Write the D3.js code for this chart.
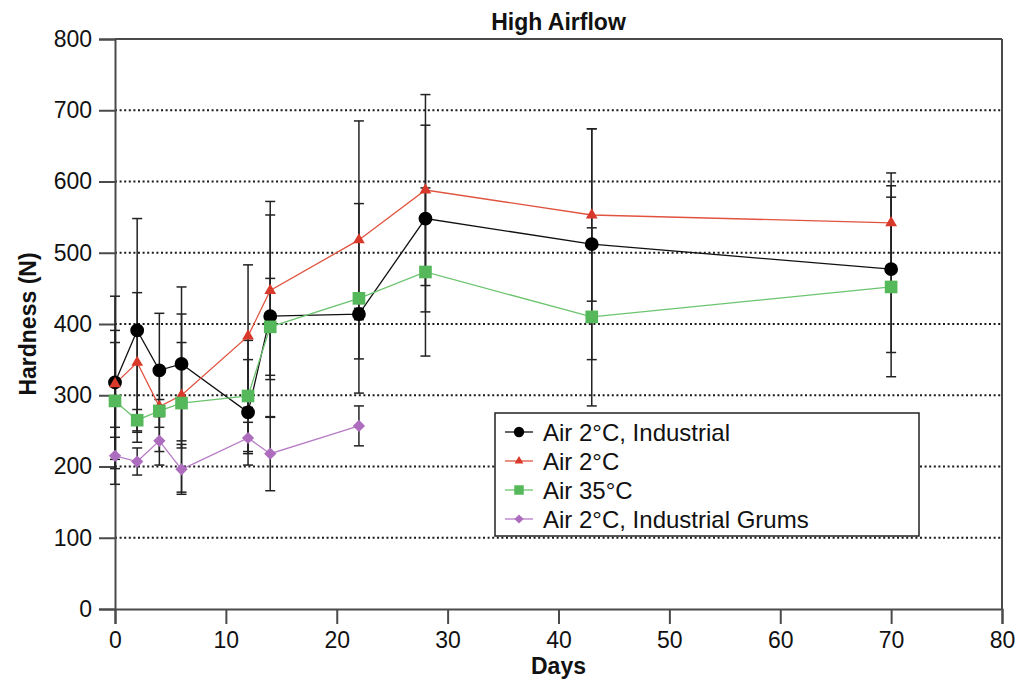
<!DOCTYPE html>
<html>
<head>
<meta charset="utf-8">
<script src="https://cdn.jsdelivr.net/npm/d3@7"></script>
<style>
  body { margin: 0; background: #fff; }
  svg { display: block; font-family: "Liberation Sans", Arial, sans-serif; }
</style>
</head>
<body>
<svg id="chart" width="1017" height="681"></svg>
<script>
// ---- data ----
const days = [0, 2, 4, 6, 12, 14, 22, 28, 43, 70];
const daysGrums = [0, 2, 4, 6, 12, 14, 22];

const industrial = [318, 391, 335, 344, 276, 411, 414, 548, 512, 477];
const industrialErr = [121, 157, 80, 108, 74, 142, 8, 131, 162, 117];

const air2 = [316, 346, 284, 300, 383, 447, 518, 588, 553, 542];
const air2Err = [75, 98, 10, 74, 100, 125, 167, 134, 121, 70];

const air35 = [292, 265, 278, 289, 299, 396, 436, 473, 410, 452];
const air35Err = [82, 15, 57, 125, 78, 68, 133, 118, 125, 126];

const grums = [215, 207, 236, 196, 240, 218, 257];
const grumsErr = [40, 19, 34, 35, 22, 52, 28];

const seriesNames = ["Air 2°C, Industrial", "Air 2°C", "Air 35°C", "Air 2°C, Industrial Grums"];
const xTicks = [0, 10, 20, 30, 40, 50, 60, 70, 80];
const yTicks = [0, 100, 200, 300, 400, 500, 600, 700, 800];
const gridValues = [100, 200, 300, 400, 500, 600, 700];

const series = [
  { name: seriesNames[0], x: days, y: industrial, err: industrialErr, color: "#000000", line: "#111111", shape: "circle" },
  { name: seriesNames[1], x: days, y: air2, err: air2Err, color: "#d9392a", line: "#e0533f", shape: "triangle" },
  { name: seriesNames[2], x: days, y: air35, err: air35Err, color: "#55b85a", line: "#6cc46f", shape: "square" },
  { name: seriesNames[3], x: daysGrums, y: grums, err: grumsErr, color: "#ad6cbd", line: "#b77cc6", shape: "diamond" }
];

// ---- layout ----
const svg = d3.select("#chart");
const x = d3.scaleLinear().domain([0, 80]).range([115, 1002]);
const y = d3.scaleLinear().domain([0, 800]).range([609, 39]);
const axisColor = "#4a4a4a";

// gridlines
svg.append("g").selectAll("line").data(gridValues).join("line")
  .attr("x1", x(0)).attr("x2", x(80))
  .attr("y1", d => y(d)).attr("y2", d => y(d))
  .attr("stroke", "#1a1a1a").attr("stroke-width", 2)
  .attr("stroke-dasharray", "2,2.6");

// frame top & right
svg.append("line").attr("x1", x(0)).attr("x2", x(80)).attr("y1", y(800)).attr("y2", y(800))
  .attr("stroke", axisColor).attr("stroke-width", 2);
svg.append("line").attr("x1", x(80)).attr("x2", x(80)).attr("y1", y(800)).attr("y2", y(0))
  .attr("stroke", axisColor).attr("stroke-width", 2);

// axes
const yAxis = svg.append("g").attr("transform", `translate(${x(0)},0)`)
  .call(d3.axisLeft(y).tickValues(yTicks).tickSize(16).tickPadding(7).tickFormat(d3.format("d")));
const xAxis = svg.append("g").attr("transform", `translate(0,${y(0)})`)
  .call(d3.axisBottom(x).tickValues(xTicks).tickSize(15).tickPadding(8).tickFormat(d3.format("d")));
[yAxis, xAxis].forEach(g => {
  g.select(".domain").attr("stroke", axisColor).attr("stroke-width", 2);
  g.selectAll(".tick line").attr("stroke", axisColor).attr("stroke-width", 2);
  g.selectAll(".tick text").attr("fill", "#111").style("font-size", "23px")
    .style("font-family", "'Liberation Sans', Arial, sans-serif");
});

// titles
svg.append("text").attr("x", 558.5).attr("y", 30).attr("text-anchor", "middle")
  .style("font-size", "23px").style("font-weight", "bold").attr("fill", "#111").text("High Airflow");
svg.append("text").attr("x", 558.5).attr("y", 674).attr("text-anchor", "middle")
  .style("font-size", "23px").style("font-weight", "bold").attr("fill", "#111").text("Days");
svg.append("text").attr("transform", "translate(36,324) rotate(-90)").attr("text-anchor", "middle")
  .style("font-size", "23px").style("font-weight", "bold").attr("fill", "#111").text("Hardness (N)");

// error bars
const capW = 5;
series.forEach(s => {
  const g = svg.append("g");
  s.x.forEach((d, i) => {
    const cx = x(d), hi = y(s.y[i] + s.err[i]), lo = y(s.y[i] - s.err[i]);
    g.append("line").attr("x1", cx).attr("x2", cx).attr("y1", hi).attr("y2", lo)
      .attr("stroke", "#222").attr("stroke-width", 1.5);
    [hi, lo].forEach(yy => g.append("line").attr("x1", cx - capW).attr("x2", cx + capW)
      .attr("y1", yy).attr("y2", yy).attr("stroke", "#222").attr("stroke-width", 1.5));
  });
});

// symbols
function symbolPath(shape) {
  const map = {
    circle: d3.symbol(d3.symbolCircle, 150),
    triangle: d3.symbol(d3.symbolTriangle, 60),
    square: d3.symbol(d3.symbolSquare, 160),
    diamond: d3.symbol(d3.symbolSquare, 75)
  };
  return map[shape]();
}
const rot = shape => shape === "diamond" ? " rotate(45)" : "";

// lines + markers (drawn series by series)
const lineGen = d3.line().x(d => x(d[0])).y(d => y(d[1]));
series.forEach(s => {
  const pts = s.x.map((d, i) => [d, s.y[i]]);
  svg.append("path").datum(pts).attr("d", lineGen)
    .attr("fill", "none").attr("stroke", s.line).attr("stroke-width", 1.3);
});
series.forEach(s => {
  const pts = s.x.map((d, i) => [d, s.y[i]]);
  svg.append("g").selectAll("path").data(pts).join("path")
    .attr("d", symbolPath(s.shape))
    .attr("transform", d => `translate(${x(d[0])},${y(d[1])})${rot(s.shape)}`)
    .attr("fill", s.color);
});

// legend
const lg = svg.append("g");
lg.append("rect").attr("x", 495).attr("y", 413).attr("width", 424).attr("height", 123)
  .attr("fill", "#fff").attr("stroke", "#222").attr("stroke-width", 1.5);
const rowY = [432, 461, 490, 519];
series.forEach((s, i) => {
  lg.append("line").attr("x1", 505).attr("x2", 533).attr("y1", rowY[i]).attr("y2", rowY[i])
    .attr("stroke", s.line).attr("stroke-width", 1.3);
  lg.append("path").attr("d", symbolPath(s.shape))
    .attr("transform", `translate(519,${rowY[i]}) scale(0.75)${rot(s.shape)}`).attr("fill", s.color);
  lg.append("text").attr("x", 543).attr("y", rowY[i]).attr("dy", "0.36em")
    .style("font-size", "24px").attr("fill", "#111").text(s.name);
});
</script>
</body>
</html>
